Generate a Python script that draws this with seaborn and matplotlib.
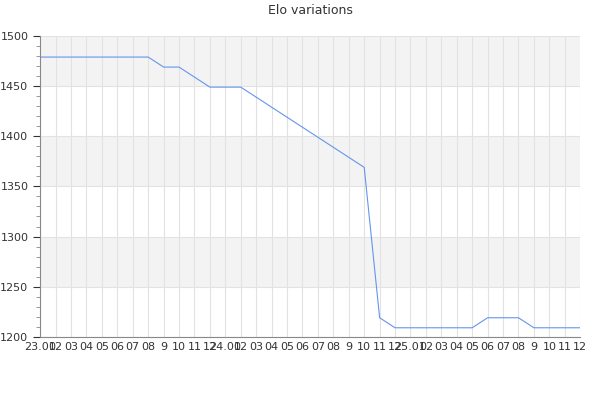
import seaborn as sns
import matplotlib.pyplot as plt
import pandas as pd
from matplotlib.ticker import MultipleLocator

# Month labels as shown on the axis
months = ["02", "03", "04", "05", "06", "07", "08", "9", "10", "11", "12"]
labels = ["23.01"] + months + ["24.01"] + months + ["25.01"] + months

elo = [1479, 1479, 1479, 1479, 1479, 1479, 1479, 1479,
       1469, 1469, 1459, 1449, 1449, 1449,
       1439, 1429, 1419, 1409, 1399, 1389, 1379, 1369,
       1219, 1209, 1209, 1209, 1209, 1209, 1209,
       1219, 1219, 1219, 1209, 1209, 1209, 1209]

df = pd.DataFrame({"idx": range(len(elo)), "elo": elo})

sns.set_style("white")
fig, ax = plt.subplots(figsize=(6, 4), dpi=100)
fig.subplots_adjust(left=0.067, right=0.967, top=0.91, bottom=0.158)

# Alternating horizontal bands
for lo in range(1200, 1500, 50):
    if (lo // 50) % 2 == 1:
        ax.axhspan(lo, lo + 50, color="#f3f3f3", zorder=0, lw=0)

sns.lineplot(data=df, x="idx", y="elo", color="#6495ed", linewidth=0.8, ax=ax)

ax.set_xlim(0, len(elo) - 1)
ax.set_ylim(1200, 1500)
ax.set_xticks(range(len(labels)))
ax.set_xticklabels(labels)
ax.yaxis.set_major_locator(MultipleLocator(50))
ax.yaxis.set_minor_locator(MultipleLocator(10))
ax.grid(True, which="major", color="#e2e2e2", linewidth=0.8)
ax.set_axisbelow(True)
ax.tick_params(axis="x", length=0, labelsize=8, colors="#333333", pad=4)
ax.tick_params(axis="y", which="major", length=5, labelsize=8, colors="#333333", direction="out", left=True)
ax.tick_params(axis="y", which="minor", length=3, color="#888888", direction="out", left=True)
ax.set_xlabel("")
ax.set_ylabel("")
for s in ["top", "right"]:
    ax.spines[s].set_visible(False)
for s in ["left", "bottom"]:
    ax.spines[s].set_color("#888888")
    ax.spines[s].set_linewidth(0.8)

ax.set_title("Elo variations", fontsize=9, color="#333333", pad=16)

plt.savefig("out.png", dpi=100)
